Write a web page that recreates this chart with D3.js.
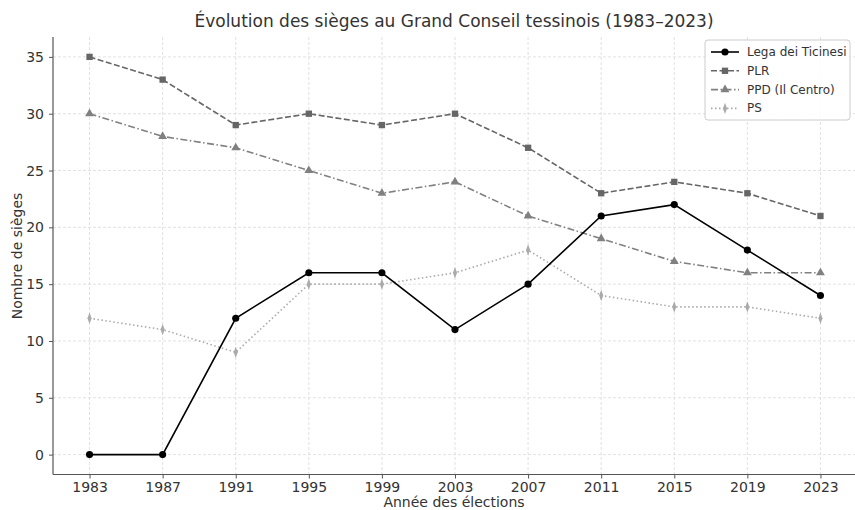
<!DOCTYPE html>
<html><head><meta charset="utf-8">
<script src="https://cdn.jsdelivr.net/npm/d3@7"></script>
<style>body{margin:0;background:#fff}svg{display:block;font-family:"DejaVu Sans",sans-serif}</style>
</head><body><svg id="c" width="855" height="510"></svg>
<script>
const years = [1983,1987,1991,1995,1999,2003,2007,2011,2015,2019,2023];
const lega = [0,0,12,16,16,11,15,21,22,18,14];
const plr = [35,33,29,30,29,30,27,23,24,23,21];
const ppd = [30,28,27,25,23,24,21,19,17,16,16];
const ps = [12,11,9,15,15,16,18,14,13,13,12];
const yTicks = [0,5,10,15,20,25,30,35];
const seriesNames = ["Lega dei Ticinesi","PLR","PPD (Il Centro)","PS"];

const svg = d3.select("#c");
const L=53, R=857, T=37, B=474.5;
const x = d3.scaleLinear().domain([1981,2025]).range([L,R]);
const y = d3.scaleLinear().domain([-1.75,36.75]).range([B,T]);

// grid
const g = svg.append("g");
g.selectAll(".gx").data(years).enter().append("line")
 .attr("x1",d=>x(d)).attr("x2",d=>x(d)).attr("y1",T).attr("y2",B)
 .attr("stroke","#d9d9d9").attr("stroke-width",0.8).attr("stroke-dasharray","3,2");
g.selectAll(".gy").data(yTicks).enter().append("line")
 .attr("x1",L).attr("x2",R).attr("y1",d=>y(d)).attr("y2",d=>y(d))
 .attr("stroke","#d9d9d9").attr("stroke-width",0.8).attr("stroke-dasharray","3,2");

// axes
const xa = svg.append("g").attr("transform",`translate(0,${B})`)
 .call(d3.axisBottom(x).tickValues(years).tickFormat(d3.format("d")).tickSize(4).tickPadding(4));
const ya = svg.append("g").attr("transform",`translate(${L},0)`)
 .call(d3.axisLeft(y).tickValues(yTicks).tickSize(4).tickPadding(5));
[xa,ya].forEach(a=>{
 a.select(".domain").attr("stroke","#555").attr("stroke-width",1.2);
 a.selectAll(".tick line").attr("stroke","#555");
 a.selectAll(".tick text").attr("fill","#333").style("font-size","14px").style("font-family","DejaVu Sans");
});
xa.select(".domain").attr("d",`M${L},0H${R}`);
ya.select(".domain").attr("d",`M0,${B}V${T}`);

const series = [
 {name:seriesNames[0],vals:lega,color:"#000",dash:null,marker:"circle",w:1.6},
 {name:seriesNames[1],vals:plr,color:"#666",dash:"6,2.5",marker:"square",w:1.6},
 {name:seriesNames[2],vals:ppd,color:"#808080",dash:"7,2.5,1.5,2.5",marker:"triangle",w:1.6},
 {name:seriesNames[3],vals:ps,color:"#aaaaaa",dash:"1.5,2.5",marker:"diamond",w:1.6}
];
const line = d3.line().x((d,i)=>x(years[i])).y(d=>y(d));
const symMap = {circle:d3.symbolCircle,square:d3.symbolSquare,triangle:d3.symbolTriangle,diamond:d3.symbolDiamond};
const symSize = {circle:40,square:40,triangle:34,diamond:26};
function drawMarker(sel,s,cx,cy){
 let sym = d3.symbol().type(symMap[s.marker]).size(symSize[s.marker]);
 sel.append("path").attr("d",sym()).attr("fill",s.color)
  .attr("transform",`translate(${cx},${cy})`+(s.marker==="diamond"?" scale(0.75,1.2)":""));
}
series.slice().reverse().forEach(s=>{
 svg.append("path").datum(s.vals).attr("d",line).attr("fill","none")
  .attr("stroke",s.color).attr("stroke-width",s.w).attr("stroke-dasharray",s.dash);
 const mg = svg.append("g");
 s.vals.forEach((v,i)=>drawMarker(mg,s,x(years[i]),y(v)));
});

// title and labels
svg.append("text").attr("x",454).attr("y",27).attr("text-anchor","middle")
 .style("font-size","17px").attr("fill","#333").text("Évolution des sièges au Grand Conseil tessinois (1983–2023)");
svg.append("text").attr("x",454).attr("y",507).attr("text-anchor","middle")
 .style("font-size","14px").attr("fill","#333").text("Année des élections");
svg.append("text").attr("transform","translate(22,256) rotate(-90)").attr("text-anchor","middle")
 .style("font-size","14px").attr("fill","#333").text("Nombre de sièges");

// legend
const lg = svg.append("g");
lg.append("rect").attr("x",705).attr("y",40).attr("width",145).attr("height",80).attr("rx",3)
 .attr("fill","#fff").attr("fill-opacity",0.85).attr("stroke","#ccc");
series.forEach((s,i)=>{
 const yy = 52+i*18.8;
 lg.append("line").attr("x1",711).attr("x2",739).attr("y1",yy).attr("y2",yy)
  .attr("stroke",s.color).attr("stroke-width",s.w).attr("stroke-dasharray",s.dash);
 drawMarker(lg,s,725,yy);
 lg.append("text").attr("x",747).attr("y",yy+4).style("font-size","12px").attr("fill","#333").text(s.name);
});
</script></body></html>
